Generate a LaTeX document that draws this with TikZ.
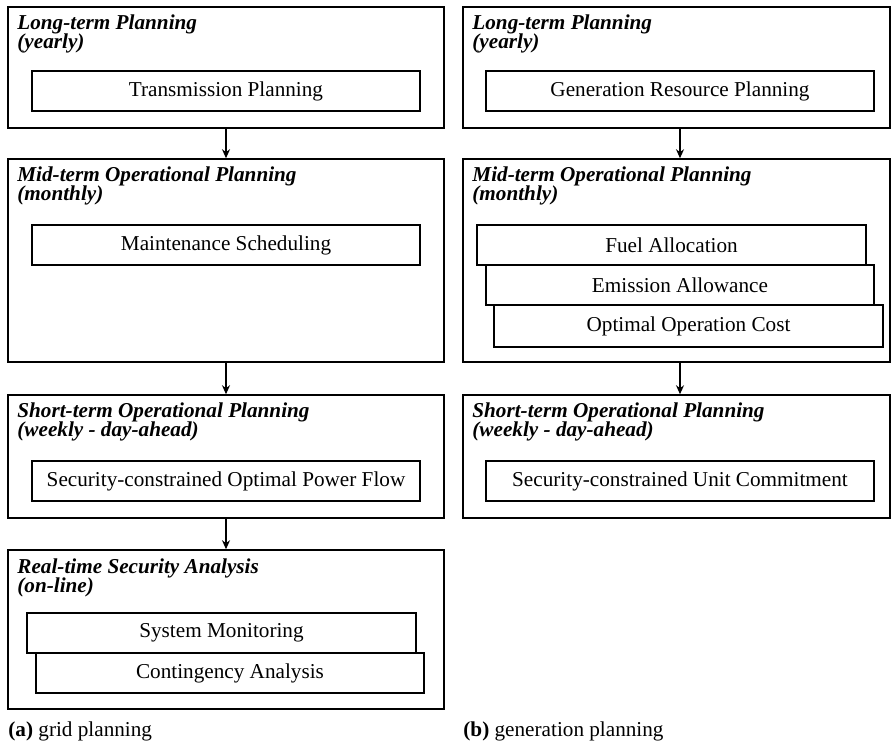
\documentclass[tikz,border=0pt]{standalone}
\usepackage{fontspec}
\setmainfont{Liberation Serif}
\usetikzlibrary{arrows.meta,fit}
\begin{document}
\begin{tikzpicture}[x=0.5pt,y=-0.5pt,
  frame/.style={draw,line width=0.75pt,inner sep=0pt},
  task/.style={draw,line width=0.75pt,fill=white,inner sep=0pt,
    minimum width=194pt,minimum height=20pt,
    font=\fontsize{10.6pt}{12pt}\selectfont},
  ttl/.style={anchor=base west,inner sep=0pt,
    font=\fontsize{10.6pt}{12pt}\selectfont\bfseries\itshape},
  captxt/.style={anchor=base west,inner sep=0pt,
    font=\fontsize{10.6pt}{12pt}\selectfont},
  arr/.style={line width=0.75pt,-{Stealth[length=4.5pt,width=4pt]}}]
\useasboundingbox (0,0) rectangle (892,747);

% ---------- (a) grid planning ----------
\node[frame,fit={(8,7) (444,128)}] (L1) {};
\node[frame,fit={(8,159) (444,362)}] (L2) {};
\node[frame,fit={(8,395) (444,518)}] (L3) {};
\node[frame,fit={(8,550) (444,709)}] (L4) {};

\node[ttl] (L1a) at (17,30) {Long-term Planning};
\node[ttl] (L1b) at (17,49) {(yearly)};
\node[ttl] (L2a) at (17,182) {Mid-term Operational Planning};
\node[ttl] (L2b) at (17,201) {(monthly)};
\node[ttl] (L3a) at (17,418) {Short-term Operational Planning};
\node[ttl] (L3b) at (17,437) {(weekly - day-ahead)};
\node[ttl] (L4a) at (17,573) {Real-time Security Analysis};
\node[ttl] (L4b) at (17,592) {(on-line)};

\node[task] (tp) at (226,91) {Transmission Planning};
\node[task] (ms) at (226,245) {Maintenance Scheduling};
\node[task] (opf) at (226,481) {Security-constrained Optimal Power Flow};
\node[task,minimum width=194.5pt] (sm) at (221.5,633) {System Monitoring};
\node[task] (ca) at (230,673) {Contingency Analysis};

\draw[arr] (L1.south) -- (L2.north);
\draw[arr] (L2.south) -- (L3.north);
\draw[arr] (L3.south) -- (L4.north);

\node[captxt] (capa) at (8,736) {\textbf{(a)} grid planning};

% ---------- (b) generation planning ----------
\node[frame,fit={(463,7) (890,128)}] (R1) {};
\node[frame,fit={(463,159) (890,362)}] (R2) {};
\node[frame,fit={(463,395) (890,518)}] (R3) {};

\node[ttl] (R1a) at (472,30) {Long-term Planning};
\node[ttl] (R1b) at (472,49) {(yearly)};
\node[ttl] (R2a) at (472,182) {Mid-term Operational Planning};
\node[ttl] (R2b) at (472,201) {(monthly)};
\node[ttl] (R3a) at (472,418) {Short-term Operational Planning};
\node[ttl] (R3b) at (472,437) {(weekly - day-ahead)};

\node[task] (grp) at (680,91) {Generation Resource Planning};
\node[task,minimum width=194.5pt] (fa) at (671.5,245) {Fuel Allocation};
\node[task] (ea) at (680,285) {Emission Allowance};
\node[task,minimum width=194.5pt,minimum height=21pt] (ooc) at (688.5,326) {Optimal Operation Cost};
\node[task] (uc) at (680,481) {Security-constrained Unit Commitment};

\draw[arr] (grp.south |- R1.south) -- (grp.south |- R2.north);
\draw[arr] (grp.south |- R2.south) -- (grp.south |- R3.north);

\node[captxt] (capb) at (463,736) {\textbf{(b)} generation planning};
\end{tikzpicture}
\end{document}
